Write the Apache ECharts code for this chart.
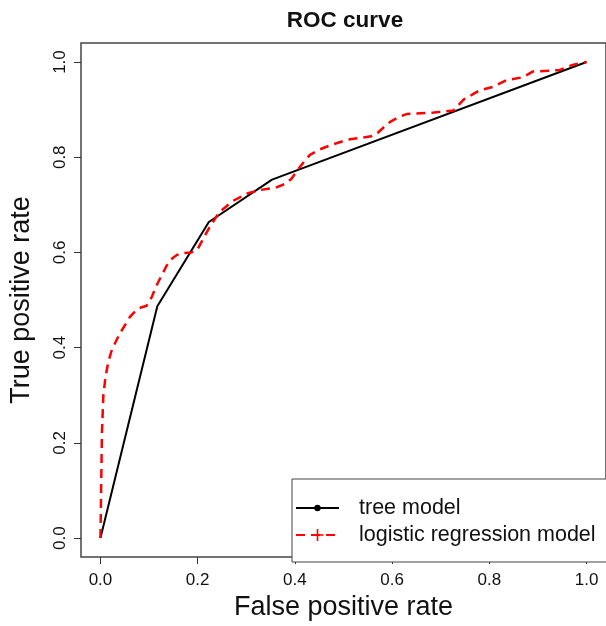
<!DOCTYPE html>
<html>
<head>
<meta charset="utf-8">
<script src="https://cdn.jsdelivr.net/npm/echarts@6/dist/echarts.min.js"></script>
<style>
  html, body { margin: 0; padding: 0; background: #fff; }
  #chart { width: 606px; height: 626px; }
</style>
</head>
<body>
<div id="chart"></div>
<script>
const tickValues = [0, 0.2, 0.4, 0.6, 0.8, 1.0];

// tree model: few cut points, straight segments
const treeFpr = [0, 0.117, 0.223, 0.353, 1.0];
const treeTpr = [0, 0.487, 0.664, 0.753, 1.0];

// logistic regression model
const logitFpr = [0, 0.003, 0.006, 0.01, 0.016, 0.024, 0.04, 0.061, 0.075, 0.085,
  0.095, 0.105, 0.115, 0.125, 0.136, 0.148, 0.158, 0.172, 0.187, 0.2,
  0.212, 0.224, 0.244, 0.272, 0.305, 0.333, 0.36, 0.38, 0.393, 0.407,
  0.42, 0.431, 0.45, 0.475, 0.509, 0.557, 0.57, 0.585, 0.597, 0.615,
  0.631, 0.686, 0.726, 0.747, 0.781, 0.808, 0.835, 0.869, 0.889, 0.944,
  0.971, 1.0];
const logitTpr = [0, 0.22, 0.30, 0.335, 0.37, 0.397, 0.43, 0.465, 0.48, 0.485,
  0.488, 0.505, 0.53, 0.55, 0.572, 0.588, 0.595, 0.599, 0.6, 0.607,
  0.63, 0.652, 0.684, 0.708, 0.725, 0.732, 0.736, 0.744, 0.755, 0.775,
  0.792, 0.805, 0.816, 0.826, 0.837, 0.844, 0.851, 0.865, 0.875, 0.885,
  0.891, 0.894, 0.898, 0.921, 0.941, 0.948, 0.962, 0.968, 0.98, 0.983,
  0.994, 1.0];

const pairs = (xs, ys) => xs.map((x, i) => [x, ys[i]]);

const font = "Liberation Sans";
const ink = "#111";

// legend markers: filled dot (pch 19) and plus (pch 3)
const dotIcon = "path://M0,0L0,0ZM15,15L15,15ZM11.5,7.5A4,4,0,1,1,3.5,7.5A4,4,0,1,1,11.5,7.5Z";
const plusIcon = "path://M0,6.5H15V8.5H0ZM6.5,0H8.5V15H6.5Z";

const chart = echarts.init(document.getElementById("chart"), null, { renderer: "canvas" });

const valueAxis = {
  type: "value",
  min: -0.04,
  max: 1.04,
  nameLocation: "middle",
  nameTextStyle: { fontFamily: font, fontSize: 27, color: ink },
  axisLine: { show: false, onZero: false },
  splitLine: { show: false },
  axisTick: {
    show: true,
    length: 7,
    customValues: tickValues,
    lineStyle: { color: "#333", width: 1 },
  },
  axisLabel: {
    customValues: tickValues,
    fontFamily: font,
    fontSize: 17,
    color: ink,
    formatter: (v) => v.toFixed(1),
  },
};

chart.setOption({
  animation: false,
  backgroundColor: "#fff",
  title: {
    text: "ROC curve",
    left: 340,
    top: 4,
    textAlign: "center",
    textStyle: { fontFamily: font, fontSize: 22.5, fontWeight: "bold", color: "#111" },
  },
  grid: {
    left: 81,
    top: 43,
    width: 530,
    height: 516,
    show: true,
    borderColor: "#444",
    borderWidth: 1.5,
    backgroundColor: "transparent",
    containLabel: false,
  },
  xAxis: {
    ...valueAxis,
    name: "False positive rate",
    nameGap: 36,
    axisLabel: { ...valueAxis.axisLabel, margin: 15 },
  },
  yAxis: {
    ...valueAxis,
    name: "True positive rate",
    nameGap: 46,
    axisLabel: { ...valueAxis.axisLabel, margin: 12, rotate: 90 },
  },
  legend: {
    orient: "vertical",
    left: 292,
    top: 479,
    padding: [18, 20, 16, 3],
    itemWidth: 43,
    itemHeight: 15,
    itemGap: 5,
    borderColor: "#444",
    borderWidth: 1,
    backgroundColor: "#fff",
    textStyle: { fontFamily: font, fontSize: 21.5, color: ink, padding: [0, 0, 0, 15] },
    data: ["tree model", "logistic regression model"],
  },
  series: [
    {
      name: "tree model",
      type: "line",
      data: pairs(treeFpr, treeTpr),
      showSymbol: false,
      symbol: dotIcon,
      color: "#000",
      lineStyle: { color: "#000", width: 2 },
    },
    {
      name: "logistic regression model",
      type: "line",
      data: pairs(logitFpr, logitTpr),
      showSymbol: false,
      symbol: plusIcon,
      color: "#f00",
      lineStyle: { color: "#f00", width: 2.5, type: [9, 6] },
    },
  ],
});
</script>
</body>
</html>
